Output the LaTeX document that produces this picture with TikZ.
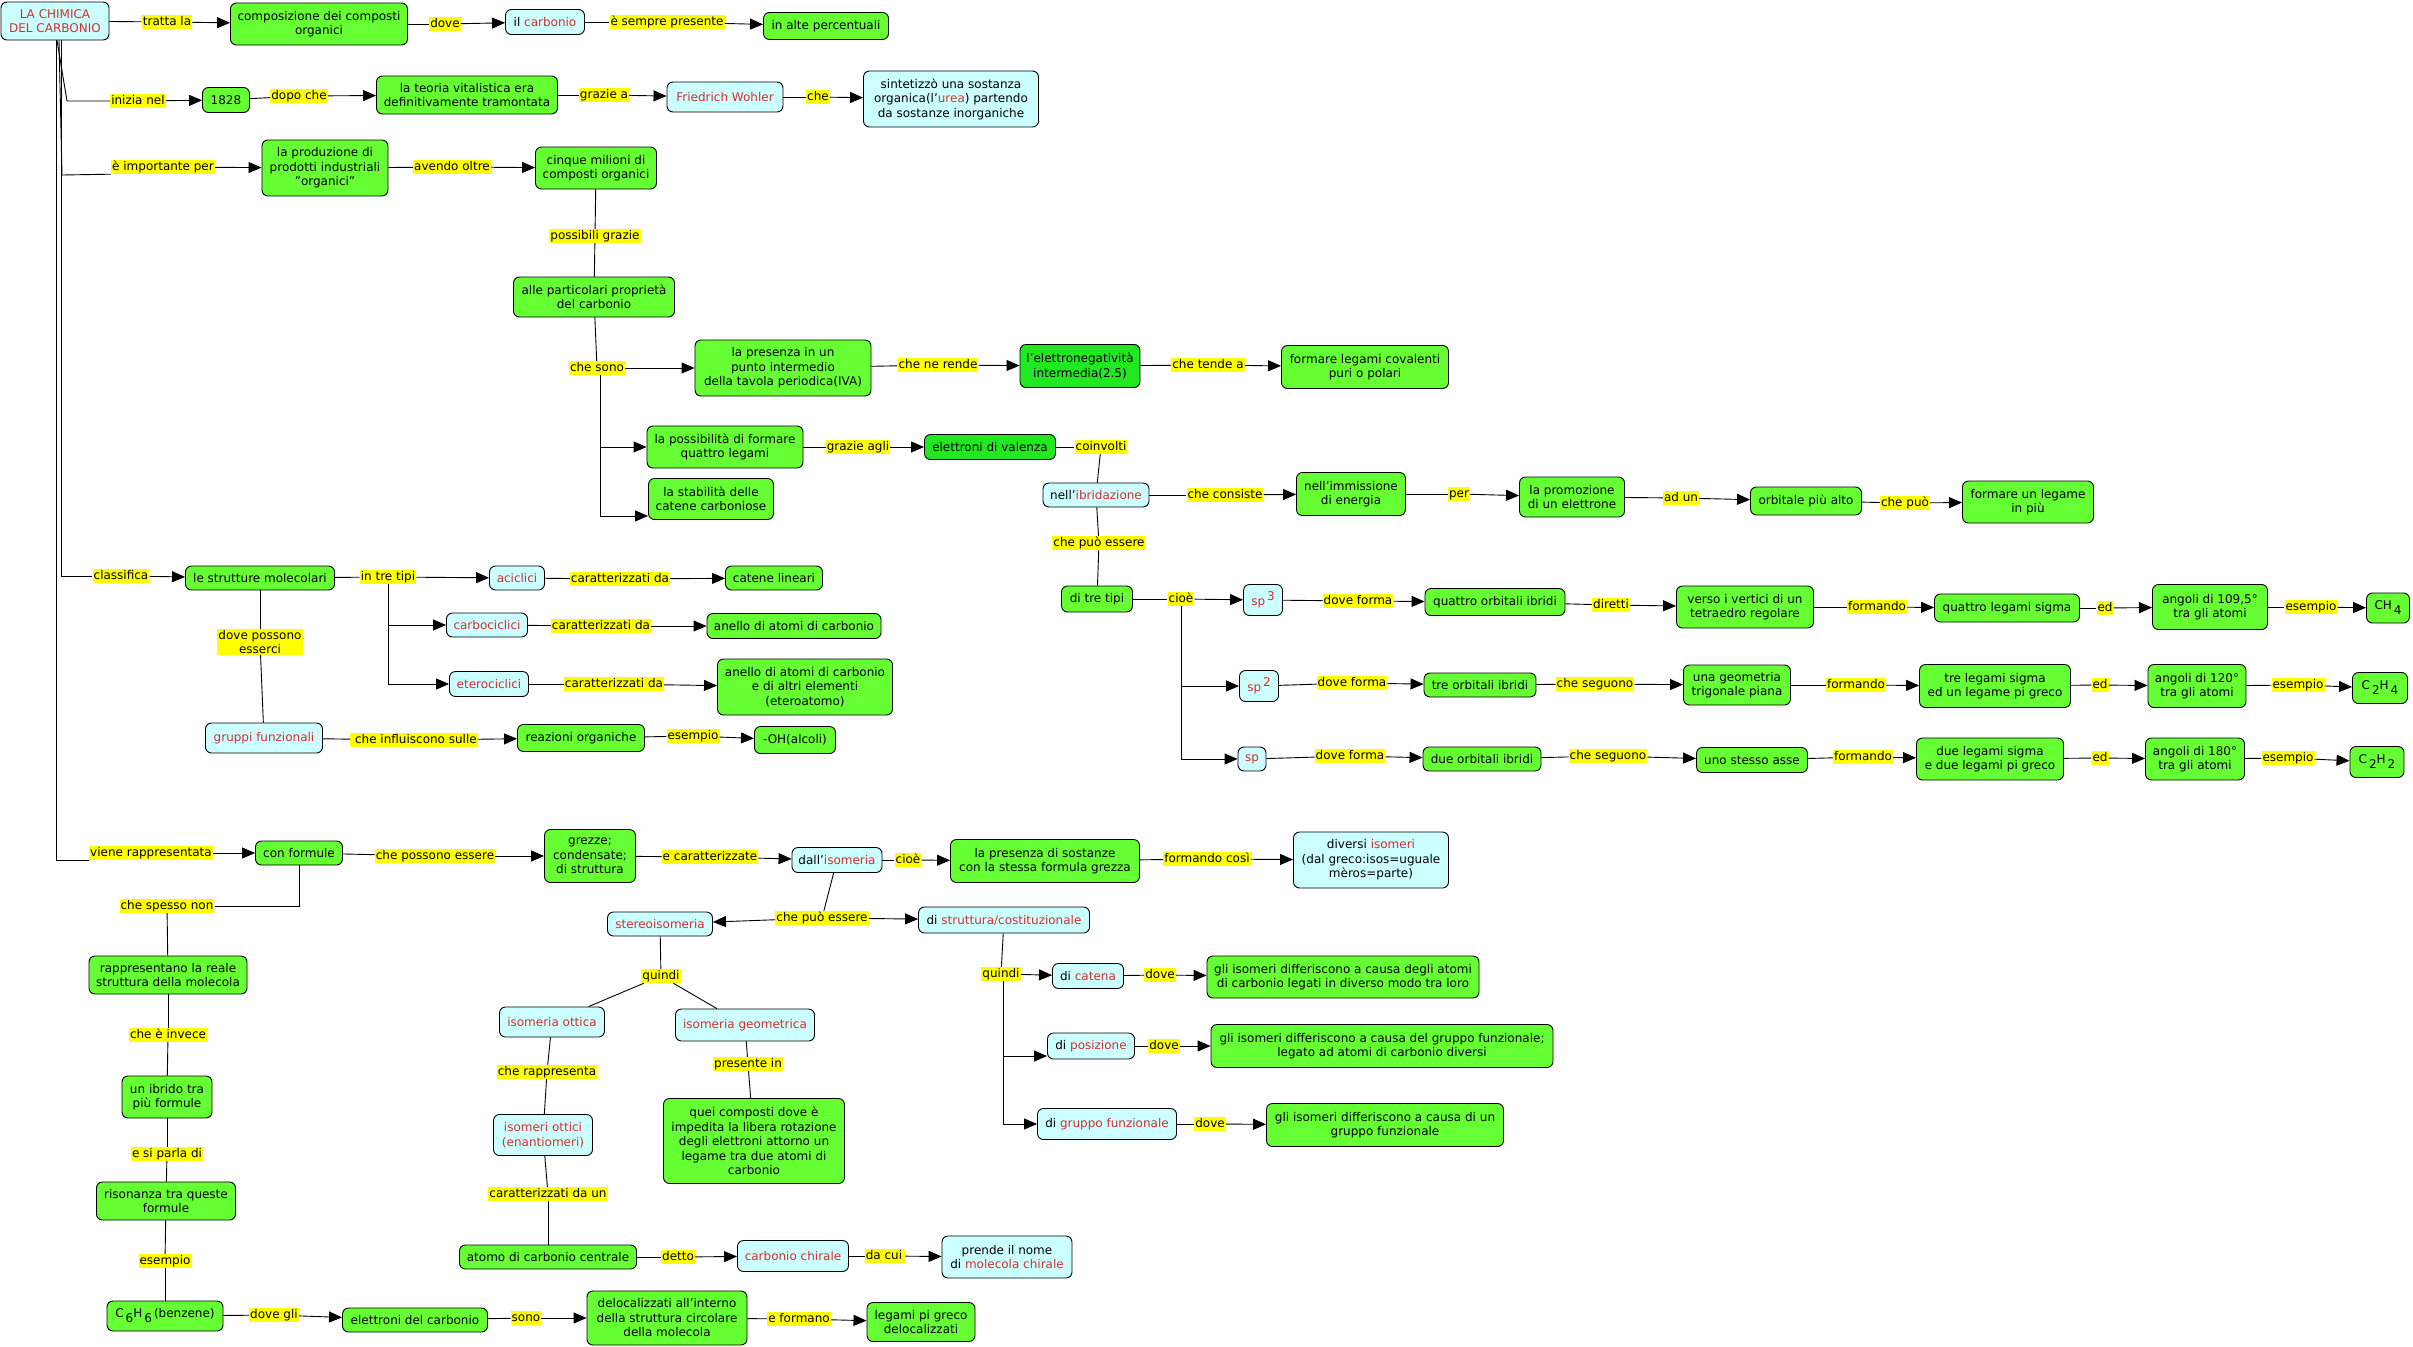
\documentclass[tikz,border=0pt]{standalone}
\usepackage{fontspec}
\setmainfont{DejaVu Sans}
\usetikzlibrary{arrows.meta}
\definecolor{cgreen}{RGB}{102,255,51}
\definecolor{cgreen2}{RGB}{34,232,34}
\definecolor{ccyan}{RGB}{204,255,255}
\definecolor{cred}{RGB}{211,47,47}
\definecolor{cyel}{RGB}{255,255,0}
\newcommand{\rd}[1]{\textcolor{cred}{#1}}
\newcommand{\dn}[1]{\,\raisebox{-5pt}{#1}}
\newcommand{\upr}[1]{\,\raisebox{5pt}{#1}}
\begin{document}
\begin{tikzpicture}[x=1pt,y=-1pt,
  every node/.style={font=\fontsize{12}{14.5}\selectfont},
  box/.style={draw=black, line width=0.9pt, rounded corners=6pt, align=center, inner xsep=4pt, inner ysep=3pt},
  gn/.style={box, fill=cgreen},
  gnb/.style={box, fill=cgreen2},
  cn/.style={box, fill=ccyan},
  cr/.style={cn, text=cred},
  sz/.style 2 args={minimum width=#1, minimum height=#2},
  lb/.style={fill=cyel, inner xsep=1pt, inner ysep=1pt, text height=9.5pt, text depth=2.5pt},
  lbm/.style={fill=cyel, inner xsep=1pt, inner ysep=1pt, align=center},
  ln/.style={line width=0.9pt},
  arr/.style={line width=0.9pt, -{Triangle[length=13pt,width=11pt]}}
  ]
\fill[white] (0,0) rectangle (2413,1347);
\useasboundingbox (0,0) rectangle (2413,1347);

% ---------------- nodes ----------------
\node[cr,sz={108}{38}] (root) at (55,21) {LA CHIMICA\\DEL CARBONIO};
\node[gn,sz={177}{42}] (comp) at (319,24) {composizione dei composti\\organici};
\node[cn,sz={79}{25}] (ilc) at (545,22) {il \rd{carbonio}};
\node[gn,sz={125}{27}] (alte) at (826,26) {in alte percentuali};
\node[gn,sz={47}{25}] (y1828) at (226,100) {1828};
\node[gn,sz={181}{38}] (teoria) at (467,95) {la teoria vitalistica era\\definitivamente tramontata};
\node[cr,sz={116}{30}] (wohler) at (725,97) {Friedrich Wohler};
\node[cn,sz={175}{56}] (sint) at (951,99) {sintetizzò una sostanza\\organica(l'\rd{urea}) partendo\\da sostanze inorganiche};
\node[gn,sz={126}{56}] (prod) at (325,168) {la produzione di\\prodotti industriali\\"organici"};
\node[gn,sz={121}{42}] (cinque) at (596,168) {cinque milioni di\\composti organici};
\node[gn,sz={161}{40}] (alle) at (594,297) {alle particolari proprietà\\del carbonio};
\node[gn,sz={176}{56}] (pres) at (783,368) {la presenza in un\\punto intermedio\\della tavola periodica(IVA)};
\node[gnb,sz={120}{43}] (eneg) at (1080,366) {l'elettronegatività\\intermedia(2.5)};
\node[gn,sz={167}{43}] (covl) at (1365,367) {formare legami covalenti\\puri o polari};
\node[gn,sz={156}{42}] (possib) at (725,447) {la possibilità di formare\\quattro legami};
\node[gnb,sz={131}{25}] (valenza) at (990,447) {elettroni di valenza};
\node[gn,sz={125}{41}] (stab) at (711,499) {la stabilità delle\\catene carboniose};
\node[cn,sz={106}{24}] (ibrid) at (1096,495) {nell'\rd{ibridazione}};
\node[gn,sz={109}{43}] (immiss) at (1351,494) {nell'immissione\\di energia};
\node[gn,sz={105}{40}] (promoz) at (1572,497) {la promozione\\di un elettrone};
\node[gn,sz={111}{28}] (orbalto) at (1806,501) {orbitale più alto};
\node[gn,sz={131}{42}] (legpiu) at (2028,502) {formare un legame\\in più};
\node[gn,sz={71}{26}] (ditre) at (1097,599) {di tre tipi};
\node[cr,sz={39}{31}] (sp3) at (1263,600) {sp\upr{3}};
\node[gn,sz={140}{27}] (qoi) at (1495,602) {quattro orbitali ibridi};
\node[gn,sz={137}{42}] (tetra) at (1745,607) {verso i vertici di un\\tetraedro regolare};
\node[gn,sz={145}{28}] (qls) at (2007,608) {quattro legami sigma};
\node[gn,sz={115}{45}] (a109) at (2210,607) {angoli di 109,5°\\tra gli atomi};
\node[gn,sz={43}{30}] (ch4) at (2388,608) {CH\dn{4}};
\node[cr,sz={39}{31}] (sp2) at (1259,686) {sp\upr{2}};
\node[gn,sz={112}{24}] (toi) at (1480,685) {tre orbitali ibridi};
\node[gn,sz={107}{40}] (trig) at (1737,685) {una geometria\\trigonale piana};
\node[gn,sz={151}{43}] (tls) at (1995,686) {tre legami sigma\\ed un legame pi greco};
\node[gn,sz={98}{43}] (a120) at (2197,686) {angoli di 120°\\tra gli atomi};
\node[gn,sz={55}{31}] (c2h4) at (2380,688) {C\dn{2}H\dn{4}};
\node[cr,sz={28}{24}] (spn) at (1252,759) {sp};
\node[gn,sz={118}{24}] (doi) at (1482,759) {due orbitali ibridi};
\node[gn,sz={111}{25}] (asse) at (1752,760) {uno stesso asse};
\node[gn,sz={147}{42}] (dls) at (1990,759) {due legami sigma\\e due legami pi greco};
\node[gn,sz={99}{42}] (a180) at (2195,759) {angoli di 180°\\tra gli atomi};
\node[gn,sz={54}{31}] (c2h2) at (2377,762) {C\dn{2}H\dn{2}};
\node[gn,sz={149}{24}] (strut) at (260,578) {le strutture molecolari};
\node[cr,sz={55}{24}] (acic) at (517,578) {aciclici};
\node[cr,sz={81}{24}] (carbo) at (487,625) {carbociclici};
\node[cr,sz={79}{25}] (etero) at (489,684) {eterociclici};
\node[gn,sz={97}{24}] (catlin) at (774,578) {catene lineari};
\node[gn,sz={174}{25}] (anello) at (794,626) {anello di atomi di carbonio};
\node[gn,sz={175}{56}] (anello2) at (805,687) {anello di atomi di carbonio\\e di altri elementi\\(eteroatomo)};
\node[cr,sz={117}{30}] (gruppi) at (264,738) {gruppi funzionali};
\node[gn,sz={127}{27}] (reaz) at (581,738) {reazioni organiche};
\node[gn,sz={81}{27}] (oh) at (795,740) {-OH(alcoli)};
\node[gn,sz={87}{24}] (conf) at (299,853) {con formule};
\node[gn,sz={91}{53}] (grezze) at (590,856) {grezze;\\condensate;\\di struttura};
\node[cn,sz={90}{25}] (disom) at (837,860) {dall'\rd{isomeria}};
\node[gn,sz={189}{43}] (stessa) at (1045,861) {la presenza di sostanze\\con la stessa formula grezza};
\node[cn,sz={155}{56}] (isomeri) at (1371,860) {diversi \rd{isomeri}\\(dal greco:isos=uguale\\mèros=parte)};
\node[gn,sz={158}{38}] (rapp) at (168,975) {rappresentano la reale\\struttura della molecola};
\node[gn,sz={90}{42}] (ibrido) at (167,1097) {un ibrido tra\\più formule};
\node[gn,sz={139}{38}] (rison) at (166,1201) {risonanza tra queste\\formule};
\node[gn,sz={116}{30}] (benz) at (165,1316) {C\dn{6}H\dn{6}\,(benzene)};
\node[gn,sz={145}{24}] (elcarb) at (415,1320) {elettroni del carbonio};
\node[gn,sz={160}{54}] (deloc) at (667,1318) {delocalizzati all'interno\\della struttura circolare\\della molecola};
\node[gn,sz={108}{39}] (pigreco) at (921,1322) {legami pi greco\\delocalizzati};
\node[cr,sz={105}{24}] (stereo) at (660,924) {stereoisomeria};
\node[cn,sz={171}{26}] (strutt) at (1004,920) {di \rd{struttura/costituzionale}};
\node[cr,sz={105}{30}] (isott) at (552,1022) {isomeria ottica};
\node[cr,sz={139}{32}] (isogeo) at (745,1025) {isomeria geometrica};
\node[gn,sz={181}{85}] (quei) at (754,1141) {quei composti dove è\\impedita la libera rotazione\\degli elettroni attorno un\\legame tra due atomi di\\carbonio};
\node[cr,sz={99}{41}] (enant) at (543,1135) {isomeri ottici\\(enantiomeri)};
\node[gn,sz={177}{24}] (atomo) at (548,1257) {atomo di carbonio centrale};
\node[cr,sz={111}{31}] (chir) at (793,1256) {carbonio chirale};
\node[cn,sz={130}{42}] (prende) at (1007,1257) {prende il nome\\di \rd{molecola chirale}};
\node[cn,sz={71}{25}] (catena) at (1088,976) {di \rd{catena}};
\node[cn,sz={87}{26}] (posiz) at (1091,1046) {di \rd{posizione}};
\node[cn,sz={139}{31}] (gruppo) at (1107,1124) {di \rd{gruppo funzionale}};
\node[gn,sz={272}{42}] (dcat) at (1343,977) {gli isomeri differiscono a causa degli atomi\\di carbonio legati in diverso modo tra loro};
\node[gn,sz={342}{43}] (dpos) at (1382,1046) {gli isomeri differiscono a causa del gruppo funzionale;\\legato ad atomi di carbonio diversi};
\node[gn,sz={237}{43}] (dgru) at (1385,1125) {gli isomeri differiscono a causa di un\\gruppo funzionale};

% ---------------- labels ----------------
\node[lb] (Ltratta) at (167,22) {tratta la};
\node[lb] (Ldove1) at (445,24) {dove};
\node[lb] (Lsempre) at (667,22) {è sempre presente};
\node[lb] (Linizia) at (138,101) {inizia nel};
\node[lb] (Ldopo) at (299,96) {dopo che};
\node[lb] (Lgrazie) at (604,95) {grazie a};
\node[lb] (Lche) at (818,97) {che};
\node[lb] (Limp) at (163,167) {è importante per};
\node[lb] (Lavendo) at (452,167) {avendo oltre};
\node[lb] (Lposs) at (595,236) {possibili grazie};
\node[lb] (Lsono) at (597,368) {che sono};
\node[lb] (Lrende) at (938,365) {che ne rende};
\node[lb] (Ltende) at (1208,365) {che tende a};
\node[lb] (Lagli) at (858,447) {grazie agli};
\node[lb] (Lcoinv) at (1101,447) {coinvolti};
\node[lb] (Lconsiste) at (1225,495) {che consiste};
\node[lb] (Lper) at (1459,494) {per};
\node[lb] (Ladun) at (1681,498) {ad un};
\node[lb] (Lpuo) at (1905,503) {che può};
\node[lb] (Lpuoess) at (1099,543) {che può essere};
\node[lb] (Lcioe) at (1181,599) {cioè};
\node[lb] (Ldfa) at (1358,601) {dove forma};
\node[lb] (Ldiretti) at (1611,605) {diretti};
\node[lb] (Lforma) at (1877,607) {formando};
\node[lb] (Leda) at (2105,608) {ed};
\node[lb] (Lesa) at (2311,607) {esempio};
\node[lb] (Ldfb) at (1352,683) {dove forma};
\node[lb] (Lsegb) at (1595,684) {che seguono};
\node[lb] (Lformb) at (1856,685) {formando};
\node[lb] (Ledb) at (2100,685) {ed};
\node[lb] (Lesb) at (2298,685) {esempio};
\node[lb] (Ldfc) at (1350,756) {dove forma};
\node[lb] (Lsegc) at (1608,756) {che seguono~};
\node[lb] (Lformc) at (1863,757) {formando};
\node[lb] (Ledc) at (2100,758) {ed};
\node[lb] (Lesc) at (2288,758) {esempio};
\node[lb] (Lclass) at (121,576) {classifica};
\node[lb] (Ltre) at (388,577) {in tre tipi};
\node[lb] (Lcara) at (620,579) {caratterizzati da};
\node[lb] (Lcarb) at (601,626) {caratterizzati da};
\node[lb] (Lcarc) at (614,684) {caratterizzati da};
\node[lbm] (Ldpe) at (260,642) {dove possono\\esserci};
\node[lb] (Linfl) at (414,740) {~che influiscono sulle};
\node[lb] (Lesd) at (693,736) {esempio};
\node[lb] (Lviene) at (151,853) {viene rappresentata};
\node[lb] (Lcpe) at (435,856) {che possono essere};
\node[lb] (Lecar) at (710,857) {e caratterizzate};
\node[lb] (Lcioeb) at (908,860) {cioè};
\node[lb] (Lcosi) at (1207,859) {formando così};
\node[lb] (Lspesso) at (167,906) {che spesso non};
\node[lb] (Linvece) at (168,1035) {che è invece};
\node[lb] (Lparla) at (167,1154) {e si parla di};
\node[lb] (Lese) at (165,1261) {esempio};
\node[lb] (Ldovegli) at (274,1315) {dove gli};
\node[lb] (Lsonob) at (526,1318) {sono};
\node[lb] (Lformano) at (799,1319) {e formano};
\node[lb] (Lcpeb) at (822,918) {che può essere};
\node[lb] (Lqa) at (661,976) {quindi};
\node[lb] (Lqb) at (1001,974) {quindi};
\node[lb] (Lcrap) at (547,1072) {che rappresenta};
\node[lb] (Lpresin) at (748,1064) {presente in};
\node[lb] (Lcarun) at (548,1194) {caratterizzati da un};
\node[lb] (Ldetto) at (678,1257) {detto};
\node[lb] (Ldacui) at (885,1256) {da cui\,};
\node[lb] (Ldoveb) at (1160,975) {dove};
\node[lb] (Ldovec) at (1164,1046) {dove};
\node[lb] (Ldoved) at (1210,1124) {dove};

% ---------------- connectors ----------------
\coordinate (kA) at (67,101);
\coordinate (kB) at (62,175);
\draw[ln] (root) -- (Ltratta); \draw[arr] (Ltratta) -- (comp);
\draw[ln] (comp) -- (Ldove1); \draw[arr] (Ldove1) -- (ilc);
\draw[ln] (ilc) -- (Lsempre); \draw[arr] (Lsempre) -- (alte);
\draw[ln] ([xshift=2pt]root.south) -- (kA) -- (Linizia.west); \draw[arr] (Linizia) -- (y1828);
\draw[ln] (y1828) -- (Ldopo); \draw[arr] (Ldopo) -- (teoria);
\draw[ln] (teoria) -- (Lgrazie); \draw[arr] (Lgrazie) -- (wohler);
\draw[ln] (wohler) -- (Lche); \draw[arr] (Lche) -- (sint);
\draw[ln] ([xshift=4pt]root.south) -- (kB) -- (Limp.south west); \draw[arr] (Limp) -- (prod);
\draw[ln] (prod) -- (Lavendo); \draw[arr] (Lavendo) -- (cinque);
\draw[ln] (cinque) -- (Lposs); \draw[ln] (Lposs) -- (alle);
\draw[ln] (alle) -- (Lsono); \draw[arr] (Lsono) -- (pres);
\draw[ln] (pres) -- (Lrende); \draw[arr] (Lrende) -- (eneg);
\draw[ln] (eneg) -- (Ltende); \draw[arr] (Ltende) -- (covl);
\draw[arr] ([xshift=3pt]Lsono.south) |- (possib.west);
\draw[arr] ([xshift=3pt]Lsono.south) |- ([yshift=4pt]stab.south west);
\draw[ln] (possib) -- (Lagli); \draw[arr] (Lagli) -- (valenza);
\draw[ln] (valenza) -- (Lcoinv); \draw[ln] (Lcoinv) -- (ibrid);
\draw[ln] (ibrid) -- (Lconsiste); \draw[arr] (Lconsiste) -- (immiss);
\draw[ln] (immiss) -- (Lper); \draw[arr] (Lper) -- (promoz);
\draw[ln] (promoz) -- (Ladun); \draw[arr] (Ladun) -- (orbalto);
\draw[ln] (orbalto) -- (Lpuo); \draw[arr] (Lpuo) -- (legpiu);
\draw[ln] (ibrid) -- (Lpuoess); \draw[ln] (Lpuoess) -- (ditre);
\draw[ln] (ditre) -- (Lcioe); \draw[arr] (Lcioe) -- (sp3);
\draw[arr] (Lcioe.south) |- (sp2.west);
\draw[arr] (Lcioe.south) |- (spn.west);
\draw[ln] (sp3) -- (Ldfa); \draw[arr] (Ldfa) -- (qoi);
\draw[ln] (qoi) -- (Ldiretti); \draw[arr] (Ldiretti) -- (tetra);
\draw[ln] (tetra) -- (Lforma); \draw[arr] (Lforma) -- (qls);
\draw[ln] (qls) -- (Leda); \draw[arr] (Leda) -- (a109);
\draw[ln] (a109) -- (Lesa); \draw[arr] (Lesa) -- (ch4);
\draw[ln] (sp2) -- (Ldfb); \draw[arr] (Ldfb) -- (toi);
\draw[ln] (toi) -- (Lsegb); \draw[arr] (Lsegb) -- (trig);
\draw[ln] (trig) -- (Lformb); \draw[arr] (Lformb) -- (tls);
\draw[ln] (tls) -- (Ledb); \draw[arr] (Ledb) -- (a120);
\draw[ln] (a120) -- (Lesb); \draw[arr] (Lesb) -- (c2h4);
\draw[ln] (spn) -- (Ldfc); \draw[arr] (Ldfc) -- (doi);
\draw[ln] (doi) -- (Lsegc); \draw[arr] (Lsegc) -- (asse);
\draw[ln] (asse) -- (Lformc); \draw[arr] (Lformc) -- (dls);
\draw[ln] (dls) -- (Ledc); \draw[arr] (Ledc) -- (a180);
\draw[ln] (a180) -- (Lesc); \draw[arr] (Lesc) -- (c2h2);
\draw[ln] ([xshift=6pt]root.south) |- (Lclass.west); \draw[arr] (Lclass) -- (strut);
\draw[ln] (strut) -- (Ltre); \draw[arr] (Ltre) -- (acic);
\draw[arr] (Ltre.south) |- (carbo.west);
\draw[arr] (Ltre.south) |- (etero.west);
\draw[ln] (acic) -- (Lcara); \draw[arr] (Lcara) -- (catlin);
\draw[ln] (carbo) -- (Lcarb); \draw[arr] (Lcarb) -- (anello);
\draw[ln] (etero) -- (Lcarc); \draw[arr] (Lcarc) -- (anello2);
\draw[ln] (strut) -- (Ldpe); \draw[ln] (Ldpe) -- (gruppi);
\draw[ln] (gruppi) -- (Linfl); \draw[arr] (Linfl) -- (reaz);
\draw[ln] (reaz) -- (Lesd); \draw[arr] (Lesd) -- (oh);
\draw[ln] ([xshift=1pt]root.south) |- (Lviene.south west); \draw[arr] (Lviene) -- (conf);
\draw[ln] (conf) -- (Lcpe); \draw[arr] (Lcpe) -- (grezze);
\draw[ln] (grezze) -- (Lecar); \draw[arr] (Lecar) -- (disom);
\draw[ln] (disom) -- (Lcioeb); \draw[arr] (Lcioeb) -- (stessa);
\draw[ln] (stessa) -- (Lcosi); \draw[arr] (Lcosi) -- (isomeri);
\draw[ln] (conf.south) |- (Lspesso.east);
\draw[ln] (Lspesso) -- (rapp);
\draw[ln] (rapp) -- (Linvece); \draw[ln] (Linvece) -- (ibrido);
\draw[ln] (ibrido) -- (Lparla); \draw[ln] (Lparla) -- (rison);
\draw[ln] (rison) -- (Lese); \draw[ln] (Lese) -- (benz);
\draw[ln] (benz) -- (Ldovegli); \draw[arr] (Ldovegli) -- (elcarb);
\draw[ln] (elcarb) -- (Lsonob); \draw[arr] (Lsonob) -- (deloc);
\draw[ln] (deloc) -- (Lformano); \draw[arr] (Lformano) -- (pigreco);
\draw[ln] (disom) -- (Lcpeb);
\draw[arr] (Lcpeb) -- (stereo);
\draw[arr] (Lcpeb) -- (strutt);
\draw[ln] (stereo) -- (Lqa);
\draw[ln] (Lqa) -- (isott);
\draw[ln] (Lqa) -- (isogeo);
\draw[ln] (isott) -- (Lcrap); \draw[ln] (Lcrap) -- (enant);
\draw[ln] (enant) -- (Lcarun); \draw[ln] (Lcarun) -- (atomo);
\draw[ln] (atomo) -- (Ldetto); \draw[arr] (Ldetto) -- (chir);
\draw[ln] (chir) -- (Ldacui); \draw[arr] (Ldacui) -- (prende);
\draw[ln] (isogeo) -- (Lpresin); \draw[ln] (Lpresin) -- (quei);
\draw[ln] (strutt) -- (Lqb);
\draw[arr] (Lqb) -- (catena);
\draw[arr] ([xshift=2pt]Lqb.south) |- ([yshift=-10pt]posiz.west);
\draw[arr] ([xshift=2pt]Lqb.south) |- (gruppo.west);
\draw[ln] (catena) -- (Ldoveb); \draw[arr] (Ldoveb) -- (dcat);
\draw[ln] (posiz) -- (Ldovec); \draw[arr] (Ldovec) -- (dpos);
\draw[ln] (gruppo) -- (Ldoved); \draw[arr] (Ldoved) -- (dgru);
\end{tikzpicture}
\end{document}
